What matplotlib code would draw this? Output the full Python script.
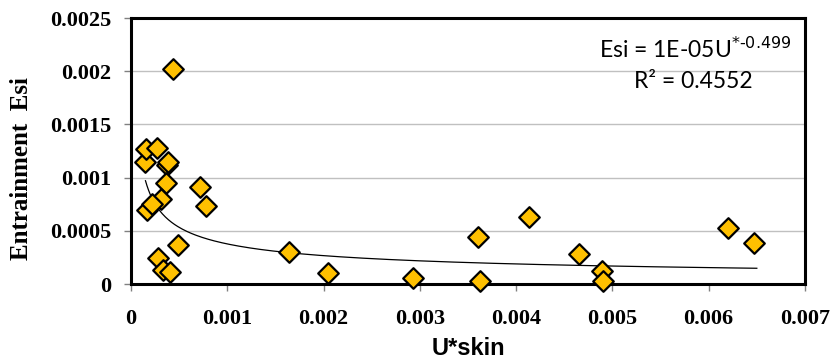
import numpy as np
import matplotlib.pyplot as plt

# U*skin vs entrainment Esi
u_skin = [0.000145, 0.00016, 0.00027, 0.00044, 0.00037, 0.00038, 0.00036,
          0.00031, 0.00017, 0.00022, 0.00072, 0.00078, 0.00049, 0.00028,
          0.00033, 0.00040, 0.00164, 0.00205, 0.00293, 0.00360, 0.00362,
          0.00413, 0.00465, 0.00489, 0.00490, 0.00620, 0.00647]
esi = [0.00115, 0.00127, 0.00128, 0.00202, 0.00112, 0.00115, 0.00095,
       0.00080, 0.00070, 0.00075, 0.00091, 0.00073, 0.00037, 0.00024,
       0.00013, 0.00011, 0.00030, 0.00010, 0.00006, 0.00044, 0.00003,
       0.00063, 0.00028, 0.00012, 0.00003, 0.00053, 0.00039]

# power trend line (coefficient shown rounded as 1E-05 on the chart)
trend_a = 1.2e-5
trend_b = -0.499
trend_x = np.linspace(0.00015, 0.0065, 400)

xticks = [0, 0.001, 0.002, 0.003, 0.004, 0.005, 0.006, 0.007]
yticks = [0, 0.0005, 0.001, 0.0015, 0.002, 0.0025]

fig = plt.figure(figsize=(8.32, 3.63), dpi=100)
ax = fig.add_axes([0.1575, 0.2176, 0.81, 0.7324])

ax.grid(axis='y', color='#c0c0c0', linewidth=1)
ax.set_axisbelow(True)
ax.plot(trend_x, trend_a * trend_x ** trend_b, color='black', linewidth=0.9, zorder=2)
ax.scatter(u_skin, esi, marker='D', s=110, facecolor='#FFC000',
           edgecolor='black', linewidth=1.6, zorder=3, clip_on=False)

ax.set_xlim(0, 0.007)
ax.set_ylim(0, 0.0025)
ax.set_xticks(xticks)
ax.set_xticklabels(['0', '0.001', '0.002', '0.003', '0.004', '0.005', '0.006', '0.007'])
ax.set_yticks(yticks)
ax.set_yticklabels(['0', '0.0005', '0.001', '0.0015', '0.002', '0.0025'])
for lbl in ax.get_xticklabels() + ax.get_yticklabels():
    lbl.set_fontfamily('Liberation Serif')
    lbl.set_fontweight('bold')
    lbl.set_fontsize(16)
ax.tick_params(axis='both', direction='out', length=5, color='#808080', width=1)
ax.tick_params(axis='x', pad=13)
ax.tick_params(axis='y', pad=9)

for sp in ax.spines.values():
    sp.set_linewidth(2.2)
    sp.set_color('black')

ax.set_xlabel('U*skin', fontfamily='Liberation Sans', fontweight='bold', fontsize=17)
ax.xaxis.set_label_coords(0.5, -0.2)
ax.set_ylabel('Entrainment  Esi', fontfamily='Liberation Serif', fontweight='bold', fontsize=18)
ax.yaxis.set_label_coords(-0.145, 0.436)

ax.text(0.00686, 0.00221, r'Esi = 1E-05U$^{*\text{-}0.499}$', ha='right', va='center',
        fontfamily='Lato', fontsize=16.5)
ax.text(0.00584, 0.0019, 'R² = 0.4552', ha='center', va='center', fontfamily='Lato', fontsize=16.5)

fig.savefig('out.png', dpi=100)
